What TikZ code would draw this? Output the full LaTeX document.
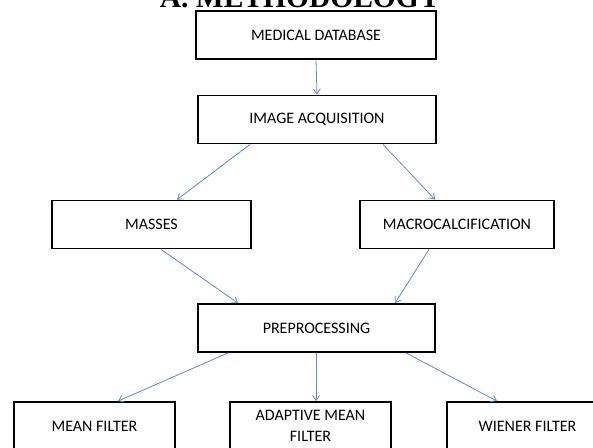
\documentclass[tikz,border=0pt]{standalone}
\usepackage{fontspec}
\setmainfont{Carlito}
\newfontfamily\titlefont{Liberation Serif}
\usetikzlibrary{arrows.meta}
\definecolor{arrowblue}{RGB}{96,138,204}
\tikzset{
	stagebox/.style={draw=black,line width=1.8pt,fill=white,minimum height=48pt,inner sep=2pt,align=center,font=\fontsize{16}{21}\selectfont},
	flow/.style={draw=arrowblue,line width=0.8pt,-{Straight Barb[length=5pt,width=7pt]}}
}
\begin{document}
\begin{tikzpicture}[x=1pt,y=-1pt]
	   \useasboundingbox (0,0) rectangle (593,447);
	   \clip (0,0) rectangle (593,447);
	   \node (title) [anchor=base,font=\titlefont\bfseries\fontsize{29.5}{30}\selectfont] at (300,8) {A. METHODOLOGY};
	   \node (db) [stagebox,minimum width=240pt] at (316,35) {MEDICAL DATABASE};
	   \node (iacq) [stagebox,minimum width=238pt] at (317,119.5) {IMAGE ACQUISITION};
	   \node (masses) [stagebox,minimum width=199pt] at (151.5,224.5) {MASSES};
	   \node (macro) [stagebox,minimum width=194pt] at (457,224.5) {MACROCALCIFICATION};
	   \node (prep) [stagebox,minimum width=237pt] at (316.5,328) {PREPROCESSING};
	   \node (mean) [stagebox,minimum width=161pt] at (94.5,426) {MEAN FILTER};
	   \node (amean) [stagebox,minimum width=161pt] at (310.5,426) {ADAPTIVE MEAN\\FILTER};
	   \node (wiener) [stagebox,minimum width=161pt] at (527.5,426) {WIENER FILTER};
	   \draw[flow] (db.south) -- (iacq.north);
	   \draw[flow] ([xshift=-67pt]iacq.south) -- ([xshift=25.5pt]masses.north);
	   \draw[flow] ([xshift=66pt]iacq.south) -- ([xshift=-22pt]macro.north);
	   \draw[flow] ([xshift=9.5pt]masses.south) -- ([xshift=-78.5pt]prep.north);
	   \draw[flow] ([xshift=-28pt]macro.south) -- ([xshift=78.5pt]prep.north);
	   \draw[flow] ([xshift=-88.5pt]prep.south) -- ([xshift=23.5pt]mean.north);
	   \draw[flow] ([xshift=-0.5pt]prep.south) -- ([xshift=5.5pt]amean.north);
	   \draw[flow] ([xshift=89.5pt]prep.south) -- ([xshift=-30.5pt]wiener.north);
	\end{tikzpicture}
\end{document}
